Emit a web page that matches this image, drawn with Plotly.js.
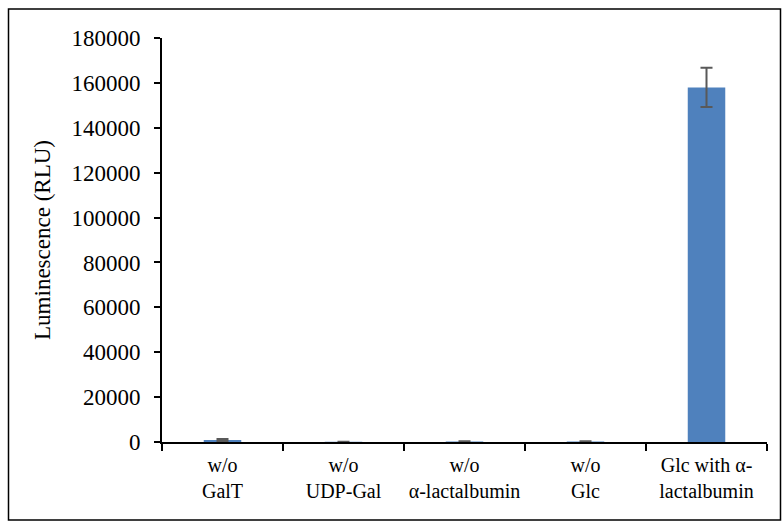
<!DOCTYPE html>
<html>
<head>
<meta charset="utf-8">
<script src="https://cdn.plot.ly/plotly-3.0.1.min.js"></script>
<style>html,body{margin:0;padding:0;background:#fff;}#chart{width:784px;height:524px;}</style>
</head>
<body>
<div id="chart"></div>
<script>
var categories = ["w/o<br>GalT", "w/o<br>UDP-Gal", "w/o<br>α-lactalbumin", "w/o<br>Glc", "Glc with α-<br>lactalbumin"];
var luminescence = [900, 60, 200, 200, 158000];
var errors = [450, 50, 150, 150, 8700];
var yTicks = [0, 20000, 40000, 60000, 80000, 100000, 120000, 140000, 160000, 180000];

var W = 784, H = 524;
var m = {l: 162, r: 17, t: 38, b: 82};
var pw = W - m.l - m.r, ph = H - m.t - m.b;
function px(x) { return (x - m.l) / pw; }
function py(y) { return (H - m.b - y) / ph; }

var trace = {
  type: "bar",
  x: categories,
  y: luminescence,
  marker: {color: "#4F81BD"},
  width: 0.31,
  error_y: {type: "data", array: errors, visible: true, color: "#595959", thickness: 2, width: 6}
};

var layout = {
  width: W, height: H,
  margin: m,
  paper_bgcolor: "#fff", plot_bgcolor: "#fff",
  showlegend: false,
  font: {family: "Liberation Serif, Times New Roman, serif", color: "#000"},
  xaxis: {
    type: "category",
    showline: true, linecolor: "#000", linewidth: 2,
    ticks: "outside", tickson: "boundaries", ticklen: 7, tickcolor: "#000", tickwidth: 2,
    tickfont: {size: 20, color: "#000"},
    tickangle: 0,
    ticklabelstandoff: 4,
    showgrid: false, zeroline: false
  },
  yaxis: {
    range: [0, 180000],
    tickvals: yTicks,
    ticktext: yTicks.map(String),
    showline: true, linecolor: "#000", linewidth: 2,
    ticks: "outside", ticklen: 6, tickcolor: "#000", tickwidth: 2,
    tickfont: {size: 23, color: "#000"},
    ticklabelstandoff: 9,
    showgrid: false, zeroline: false,
    title: {text: "Luminescence (RLU)", font: {size: 23, color: "#000"}, standoff: 14}
  },
  shapes: [{
    type: "rect", xref: "paper", yref: "paper",
    x0: px(8.5), x1: px(780.5), y0: py(9), y1: py(520),
    line: {color: "#000", width: 1.5}, fillcolor: "rgba(0,0,0,0)"
  }]
};

Plotly.newPlot("chart", [trace], layout, {staticPlot: true, displayModeBar: false});
</script>
</body>
</html>
